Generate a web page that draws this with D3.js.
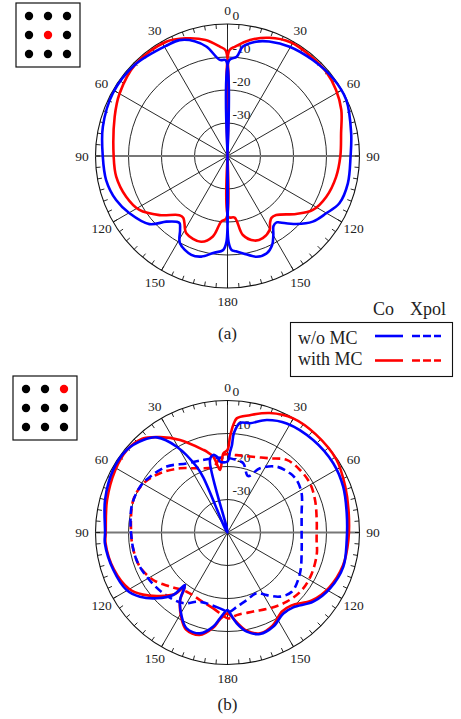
<!DOCTYPE html>
<html lang="en">
<head>
<meta charset="UTF-8">
<title>Radiation patterns</title>
<script src="https://d3js.org/d3.v7.min.js"></script>
<style>
  body{margin:0;background:#fff;}
  svg text{font-family:"Liberation Serif","Times New Roman",serif;fill:#222;}
</style>
</head>
<body>
<svg id="chart" width="461" height="719"></svg>
<script>
// ---- data: [angle in degrees, gain in dB] ----
// (a) centre element
const aCoNoMC = [[-180,-40],[-179.3,-14],[-177.4,-11.5],[-171.6,-10.3],[-165.4,-8.5],[-159.9,-8.1],[-151.4,-9.9],[-147.3,-13.4],[-144.5,-15],[-142.3,-14.8],[-137,-12.8],[-131.1,-8.6],[-120.3,-5.6],[-111.6,-3.7],[-101.2,-2.5],[-90,-2.2],[-76.8,-1.2],[-61.3,-0.4],[-45.6,-0.6],[-28.3,-1.8],[-22.5,-2.0],[-16,-3.8],[-10.8,-6.3],[-4.5,-10.8],[-1,-11],[0,-40],[1,-11],[5.3,-9.8],[8,-6.5],[14,-4.3],[20,-3.1],[29.6,-1.9],[41.6,-1.1],[53.6,-0.3],[64.7,-0.2],[79.6,-1.9],[90,-2.7],[102.8,-2.6],[112.9,-3.2],[120.1,-5.4],[127.6,-7.4],[134.7,-10.7],[141.7,-14.3],[143.5,-15],[146.7,-14.6],[149.9,-12.3],[153.4,-9.8],[158,-8.2],[163.8,-8.2],[170.8,-10.1],[175,-11],[177.5,-11.5],[179.3,-14],[180,-40]];
const aCoMC = [[-180,-40],[-179,-21.2],[-174.5,-20],[-169.7,-15.2],[-162.9,-12.8],[-151.9,-13.5],[-147,-16],[-144.3,-17],[-140.9,-16.9],[-131,-12.7],[-121.5,-8.7],[-111.9,-6.9],[-100.5,-5.7],[-90,-5.5],[-70.8,-3.8],[-59.9,-2.2],[-45,-0.6],[-28.2,-0.7],[-19.3,-2.2],[-10.7,-4.2],[-4,-6.8],[-1,-8],[0,-40],[1,-8],[4,-6.8],[11,-4.2],[19.5,-2],[29,-0.6],[39,-0.6],[49.5,-0.7],[58.7,-1.5],[68,-2.8],[78.7,-4.9],[90,-5.8],[101,-6.5],[112.4,-7.6],[122.3,-9.4],[130.2,-12.8],[140.5,-16.8],[144.6,-17],[147.5,-16],[150.4,-14.2],[156.8,-12.9],[162.3,-13.1],[169,-15.6],[173.4,-21.2],[179,-21.5],[180,-40]];

// (b) corner element
const bCoNoMC = [[-180,-16.5],[-175,-13.9],[-171.4,-11.2],[-164.7,-8.3],[-156.9,-8.4],[-151.4,-11],[-144.9,-15],[-141,-19.5],[-139,-14.9],[-132.9,-10.7],[-126.3,-7.1],[-119.7,-4.8],[-108.2,-3.6],[-95,-2.7],[-90,-2.9],[-75.1,-1.6],[-61.3,-0.5],[-50.7,-0.5],[-42.3,-2.1],[-36.6,-4.1],[-30.6,-9.8],[-25.1,-18],[-23.7,-22],[-19,-40],[-13.6,-17.4],[-10.4,-16.1],[-7.1,-17.3],[-6,-18.4],[0,-18.5],[1.8,-15.5],[2.9,-13.5],[3.7,-9.8],[6.5,-6.6],[11.6,-6.2],[19.2,-3.9],[28.5,-2.4],[42.8,-1.8],[56.8,-1.7],[68.4,-2.3],[80.8,-3.4],[93.6,-3.8],[106.4,-3.4],[118.6,-4.6],[128.9,-6.6],[138.7,-9.8],[145.4,-10.2],[154,-8.3],[162.2,-7.7],[169,-9.4],[174.2,-12.3],[178.2,-15.5],[180,-16.5]];
const bCoMC = [[-180,-15.5],[-175,-13.5],[-171.4,-10.8],[-164.7,-7.8],[-156.9,-8],[-151.4,-10.7],[-145,-15],[-141.8,-19],[-139.5,-15.5],[-133,-11.8],[-126.3,-8.2],[-119.7,-5.6],[-108,-3.8],[-95,-2.9],[-90,-3.1],[-75,-2.2],[-61,-1.1],[-50.7,-0.6],[-42.3,-1.6],[-35.3,-4.6],[-27.2,-8.5],[-16.3,-13.9],[-14.4,-14.7],[-10.6,-16.6],[-6.8,-20.9],[-3,-16],[0,-15],[1.5,-11],[3,-7.5],[4.6,-5.3],[10.8,-3.8],[19.5,-1.6],[29.9,-0.1],[42,0],[56.4,-0.3],[68.7,-1.7],[80.9,-2.8],[93.6,-3.3],[106,-3.6],[118.6,-5],[128.9,-7.2],[138.7,-10.6],[145.4,-10.9],[154,-8.7],[162,-7.9],[169,-9.7],[174,-12.6],[178,-14.8],[180,-15.5]];
const bXNoMC = [[-180,-16],[-174.3,-16.9],[-158.3,-17.4],[-147.7,-14.7],[-133.4,-13.2],[-118.7,-12.1],[-106.8,-11.2],[-94.5,-10.9],[-74.9,-9.9],[-62.4,-10.1],[-54.2,-11.1],[-42.7,-12.8],[-30.5,-15.7],[-18.7,-16.8],[-9.5,-17.1],[0,-17.4],[6,-17.8],[12.9,-18.5],[20,-21.8],[26.8,-18.2],[36.8,-15.1],[46.6,-13.9],[52.8,-13.7],[62.2,-14.6],[75.5,-16.8],[93.2,-17.5],[103.3,-16.9],[119.4,-14.8],[132.7,-13.5],[140.7,-14.9],[147.9,-17.6],[154.3,-19.6],[164.1,-18.7],[172.9,-17.3],[178.2,-16],[180,-16]];
const bXMC = [[-180,-14],[-169.4,-16.6],[-157.8,-17.9],[-145.4,-18.2],[-133.3,-16.1],[-122.6,-13.3],[-111.3,-11.5],[-100.5,-11],[-90.5,-10.8],[-71,-9.8],[-59.7,-10.5],[-48.7,-12.8],[-36.5,-15.8],[-25.6,-18.4],[-12.2,-19.6],[-4,-16.5],[0,-16.3],[6.8,-16.4],[16.5,-16],[29.8,-14.1],[39.2,-11.6],[49.2,-11],[59.2,-10.9],[69.6,-11.7],[82,-12.7],[94.8,-12.9],[103.1,-12.2],[115.9,-11.6],[127.8,-11.5],[139.4,-12.4],[150.7,-13.7],[162,-14.8],[173.6,-14.8],[178.3,-14],[180,-14]];

const ringLevels = [-30, -20, -10, 0];
const ringLabels = ["-30", "-20", "-10", "0"];
const spokeAngles = [0, 30, 60, 90, 120, 150, 180, 210, 240, 270, 300, 330];
const angleLabels = ["0", "30", "60", "90", "120", "150", "180", "150", "120", "90", "60", "30"];
const legendRows = ["w/o MC", "with MC"];
const legendCols = ["Co", "Xpol"];
const panelNames = ["(a)", "(b)"];
const activeElement = [4, 2];   // highlighted pin in 3x3 layout

const BLUE = "#0000ff", RED = "#ff0000";
const svg = d3.select("#chart");
const cx = 227.5, R = 132;

const rScale = d3.scaleLinear().domain([-40, 0]).range([0, R]).clamp(true);
const aScale = d3.scaleLinear().domain([0, 360]).range([0, 2 * Math.PI]);

function px(deg, r){ return r * Math.sin(aScale(deg)); }
function py(deg, r){ return -r * Math.cos(aScale(deg)); }

const line = d3.lineRadial()
  .angle(d => aScale(d[0]))
  .radius(d => rScale(d[1]))
  .curve(d3.curveCatmullRomClosed.alpha(0.5));

function closed(data){ return data.filter(d => d[0] < 180); }

function polar(cy, series){
  const g = svg.append("g").attr("transform", `translate(${cx},${cy})`);

  g.selectAll("circle.ring").data(ringLevels).join("circle")
    .attr("r", d => rScale(d)).attr("fill", "none")
    .attr("stroke", "#111").attr("stroke-width", d => d === 0 ? 1.1 : 0.9);

  g.selectAll("line.spoke").data(spokeAngles).join("line")
    .attr("x1", 0).attr("y1", 0)
    .attr("x2", d => px(d, R)).attr("y2", d => py(d, R))
    .attr("stroke", d => (d === 90 || d === 270) ? "#777" : "#111")
    .attr("stroke-width", d => (d === 90 || d === 270) ? 1.8 : 0.9);

  g.selectAll("line.tick").data(d3.range(0, 360, 5)).join("line")
    .attr("x1", d => px(d, R - 4.5)).attr("y1", d => py(d, R - 4.5))
    .attr("x2", d => px(d, R)).attr("y2", d => py(d, R))
    .attr("stroke", "#111").attr("stroke-width", 0.9);

  g.selectAll("text.ang").data(spokeAngles).join("text")
    .attr("x", d => px(d, R + 13.5)).attr("y", d => py(d, R + 13.5))
    .attr("dy", "0.35em").attr("text-anchor", "middle")
    .style("font-size", "13.5px")
    .text((d, i) => angleLabels[i]);

  g.selectAll("text.rad").data(ringLevels).join("text")
    .attr("x", 5).attr("y", d => -rScale(d) - 9)
    .attr("dy", "0.35em").attr("text-anchor", "start")
    .style("font-size", "13.5px")
    .text((d, i) => ringLabels[i]);

  series.forEach(s => {
    g.append("path").datum(closed(s.data))
      .attr("d", line).attr("fill", "none")
      .attr("stroke", s.color).attr("stroke-width", 2.6)
      .attr("stroke-dasharray", s.dash ? "8,4.5" : null);
  });
}

function inset(x, y, active){
  const g = svg.append("g").attr("transform", `translate(${x},${y})`);
  g.append("rect").attr("width", 64).attr("height", 64)
    .attr("fill", "#fff").attr("stroke", "#111").attr("stroke-width", 1.2);
  const p = d3.scalePoint().domain([0, 1, 2]).range([13, 51]);
  g.selectAll("circle").data(d3.range(9)).join("circle")
    .attr("cx", d => p(d % 3)).attr("cy", d => p(Math.floor(d / 3)))
    .attr("r", 4.2).attr("fill", d => d === active ? RED : "#000");
}

polar(156, [
  {data: aCoMC, color: RED},
  {data: aCoNoMC, color: BLUE}
]);
polar(532.5, [
  {data: bXMC, color: RED, dash: true},
  {data: bXNoMC, color: BLUE, dash: true},
  {data: bCoMC, color: RED},
  {data: bCoNoMC, color: BLUE}
]);

inset(16, 3, activeElement[0]);
inset(13, 376, activeElement[1]);

svg.selectAll("text.panel").data(panelNames).join("text")
  .attr("x", cx).attr("y", (d, i) => i === 0 ? 339 : 710)
  .attr("text-anchor", "middle").style("font-size", "17px")
  .text(d => d);

// legend
const lg = svg.append("g");
lg.append("rect").attr("x", 290.5).attr("y", 322.5).attr("width", 162).attr("height", 54)
  .attr("fill", "#fff").attr("stroke", "#111").attr("stroke-width", 1.1);
lg.selectAll("text.col").data(legendCols).join("text")
  .attr("x", (d, i) => i === 0 ? 373 : 410).attr("y", 315)
  .style("font-size", "18px").text(d => d);
lg.selectAll("text.row").data(legendRows).join("text")
  .attr("x", 298).attr("y", (d, i) => 344 + i * 20.5)
  .style("font-size", "18px").text(d => d);
[BLUE, RED].forEach((c, i) => {
  const y = 336 + i * 24.5;
  lg.append("line").attr("x1", 375).attr("x2", 403).attr("y1", y).attr("y2", y)
    .attr("stroke", c).attr("stroke-width", 2.6);
  lg.append("line").attr("x1", 412).attr("x2", 441).attr("y1", y).attr("y2", y)
    .attr("stroke", c).attr("stroke-width", 2.6).attr("stroke-dasharray", "8,3");
});
</script>
</body>
</html>
